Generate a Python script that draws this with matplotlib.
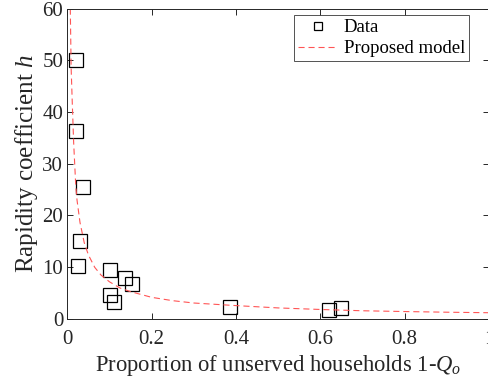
import matplotlib.pyplot as plt
import numpy as np

plt.rcParams["font.family"] = ["Liberation Serif", "DejaVu Serif"]
plt.rcParams["mathtext.fontset"] = "custom"
plt.rcParams["mathtext.rm"] = "Liberation Serif"
plt.rcParams["mathtext.it"] = "Liberation Serif:italic"

# measured data (proportion of unserved households vs rapidity coefficient)
data_x = [0.021, 0.021, 0.036, 0.030, 0.025, 0.102, 0.137, 0.154, 0.102, 0.111, 0.385, 0.620, 0.649]
data_h = [50.0, 36.3, 25.5, 15.0, 10.2, 9.4, 7.9, 6.6, 4.5, 3.1, 2.3, 1.6, 2.1]

# proposed model curve
model_x = [0.007, 0.009, 0.012, 0.015, 0.02, 0.023, 0.03, 0.04, 0.05, 0.065, 0.08,
           0.1, 0.125, 0.15, 0.2, 0.25, 0.3, 0.4, 0.5, 0.6, 0.7, 0.8, 0.9, 1.0]
model_h = [60.0, 48.5, 41.0, 34.0, 25.6, 22.9, 18.6, 14.7, 12.3, 9.9, 8.4,
           7.1, 5.9, 5.2, 4.1, 3.45, 3.0, 2.5, 2.05, 1.75, 1.5, 1.35, 1.22, 1.12]

x_ticks = [0, 0.2, 0.4, 0.6, 0.8, 1]
x_ticklabels = ["0", "0.2", "0.4", "0.6", "0.8", "1"]
y_ticks = [0, 10, 20, 30, 40, 50, 60]

fig = plt.figure(figsize=(4.88, 3.85), dpi=100)
ax = fig.add_axes([0.138, 0.1727, 0.864, 0.805])

ax.plot(data_x, data_h, linestyle="none", marker="s", markersize=10.5,
        markerfacecolor="none", markeredgecolor="black", markeredgewidth=0.9,
        label="Data")
ax.plot(model_x, model_h, linestyle=(0, (5.5, 3.5)), color="#ff5555", linewidth=0.8,
        label="Proposed model")

ax.set_xlim(0, 1)
ax.set_ylim(0, 60)
ax.set_xticks(x_ticks)
ax.set_xticklabels(x_ticklabels)
ax.set_yticks(y_ticks)
ax.tick_params(direction="in", top=True, right=True, labelsize=15,
               length=4, width=0.7, colors="#262626")
ax.tick_params(axis="x", pad=8)
ax.tick_params(axis="y", pad=3)
for s in ax.spines.values():
    s.set_linewidth(0.7)
    s.set_color("#262626")

ax.set_xlabel("Proportion of unserved households 1-$Q_o$", fontsize=16.3,
              color="#262626", labelpad=3)
ax.set_ylabel("Rapidity coefficient $h$", fontsize=18, color="#262626", labelpad=2)

leg = ax.legend(loc="upper right", bbox_to_anchor=(0.9526, 0.978), borderaxespad=0,
                fontsize=13.5, frameon=True, fancybox=False, edgecolor="#262626",
                handlelength=2.15, handletextpad=0.3, borderpad=0.2,
                labelspacing=0.2, markerscale=0.55)
leg.get_frame().set_linewidth(0.7)

fig.savefig("out.png", dpi=100)
